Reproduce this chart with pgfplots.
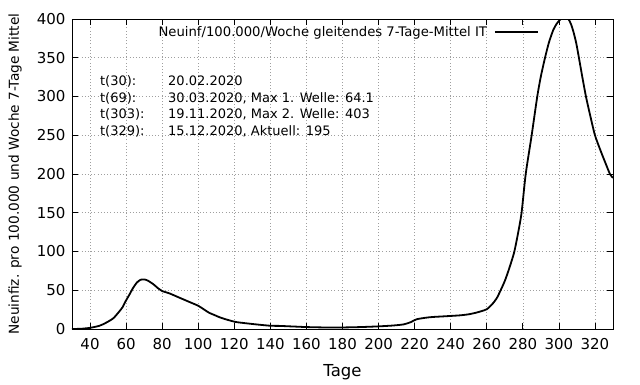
\documentclass[border=0pt]{standalone}
\usepackage{fontspec}
\setmainfont{DejaVu Sans}
\usepackage{pgfplots}
\pgfplotsset{compat=1.18}
\begin{document}
\begin{tikzpicture}[x=1pt,y=1pt]
\useasboundingbox (-72pt,-55pt) rectangle (568pt,329pt);
\begin{axis}[
  at={(0pt,0pt)}, anchor=south west,
  scale only axis, width=541pt, height=310pt,
  xmin=30, xmax=330, ymin=0, ymax=400,
  xtick={40,60,...,320}, ytick={0,50,...,400},
  /pgf/number format/assume math mode=true,
  /pgf/number format/set thousands separator={},
  tick align=inside, major tick length=6pt,
  tick style={black, line width=0.8pt},
  axis line style={black, line width=0.9pt},
  grid=major,
  major grid style={gray!75, line width=0.6pt, dash pattern=on 0.8pt off 2.4pt},
  ticklabel style={font=\fontsize{15}{18}\selectfont},
  xticklabel style={yshift=-6pt},
  yticklabel style={xshift=-3pt},
  xlabel={Tage},
  every axis x label/.style={at={(axis description cs:0.5,-0.1387)}, anchor=center, font=\fontsize{16.5}{20}\selectfont},
  ylabel={Neuinfiz. pro 100.000 und Woche 7-Tage Mittel},
  every axis y label/.style={at={(axis description cs:-0.1054,0.5)}, rotate=90, anchor=center, font=\fontsize{13.7}{16}\selectfont},
  legend style={draw=none, fill=none, at={(0.8632,0.957)}, anchor=east, inner sep=0pt,
    nodes={inner sep=0pt}, column sep=7pt, font=\fontsize{13.2}{15}\selectfont},
  legend plot pos=right,
  legend cell align=right,
  legend image code/.code={\draw[black, line width=1.8pt] (0pt,0pt) -- (43pt,0pt);},
]
\addplot[black, line width=1.8pt, smooth, tension=0.4] coordinates {
(30,0) (35,0.3) (40,1.5) (45,4) (48,7) (50,9.5) (53,14) (56,22) (58,28)
(60,37) (62,45) (64,53.5) (66,60) (68,63.5) (70,64) (72,62.5) (75,58)
(78,52) (80,49) (84,46) (88,42) (92,38) (96,34) (100,30) (103,25.5)
(106,21) (109,18) (112,15) (116,12) (121,9) (128,7) (134,5.5) (140,4.2)
(145,4) (150,3.5) (155,3) (160,2.5) (170,2) (180,2) (190,2.5) (200,3.4)
(208,4.5) (214,6) (218,9) (221,12.5) (226,14.5) (230,15.5) (236,16.3)
(245,17.6) (250,19) (254,21) (257,23) (260,25.5) (263,32) (265.5,39.6)
(267.7,50) (270,62) (272,75) (273.8,88) (275.3,100) (277.3,123) (279.3,150)
(281.6,200) (284.9,250) (288,300) (290,326) (292.3,350) (294.5,370)
(296.9,386) (298.8,394) (300.6,399) (302,402) (303.4,403) (305,401)
(306.6,394) (308,384) (309.6,369) (311.1,350) (313,325) (315,300)
(317.5,274) (320,250) (322.8,232) (325.5,216) (328.3,200) (330,195)
};
\addlegendentry{Neuinf/100.000/Woche gleitendes 7-Tage-Mittel IT}
\begin{scope}[font=\fontsize{13}{15}\selectfont]
\node[anchor=base west, inner sep=0pt] at (axis cs:45.5,314.8) {t(30):};
\node[anchor=base west, inner sep=0pt] at (axis cs:45.5,292.1) {t(69):};
\node[anchor=base west, inner sep=0pt] at (axis cs:45.5,271) {t(303):};
\node[anchor=base west, inner sep=0pt] at (axis cs:45.5,249.4) {t(329):};
\node[anchor=base west, inner sep=0pt] at (axis cs:83.25,314.8) {20.02.2020};
\node[anchor=base west, inner sep=0pt] at (axis cs:83.25,292.1) {30.03.2020, Max 1. Welle: 64.1};
\node[anchor=base west, inner sep=0pt] at (axis cs:83.25,271) {19.11.2020, Max 2. Welle: 403};
\node[anchor=base west, inner sep=0pt] at (axis cs:83.25,249.4) {15.12.2020, Aktuell: 195};
\end{scope}
\end{axis}
\end{tikzpicture}
\end{document}
